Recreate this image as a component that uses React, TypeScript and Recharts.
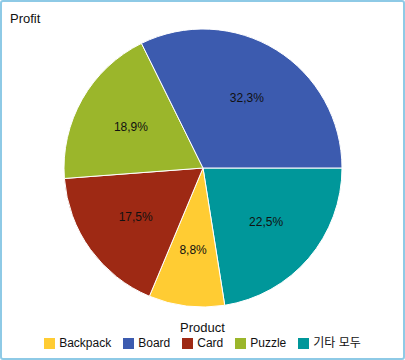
import React from 'react';
import { PieChart, Pie, Cell, Legend } from 'recharts';

const categories = ['기타 모두', 'Backpack', 'Card', 'Puzzle', 'Board'];
const profitShare = [22.5, 8.8, 17.5, 18.9, 32.3];
const legendOrder = ['Backpack', 'Board', 'Card', 'Puzzle', '기타 모두'];

const COLORS: Record<string, string> = {
  Backpack: '#FFCC33',
  Board: '#3C5BAF',
  Card: '#9E2914',
  Puzzle: '#9BB62B',
  '기타 모두': '#00979A',
};

const data = categories.map((name, i) => ({ name, value: profitShare[i] }));

const FONT = '"Liberation Sans", Arial, "Noto Sans CJK KR", sans-serif';
const RADIAN = Math.PI / 180;

const renderLabel = (props: any) => {
  const { cx, cy, midAngle, percent } = props;
  const r = 83;
  const x = cx + r * Math.cos(-midAngle * RADIAN);
  const y = cy + r * Math.sin(-midAngle * RADIAN);
  return (
    <text
      x={x}
      y={y}
      fill="#111"
      fontSize={12}
      fontFamily={FONT}
      textAnchor="middle"
      dominantBaseline="central"
    >
      {(percent * 100).toFixed(1).replace('.', ',')}%
    </text>
  );
};

const renderLegend = () => (
  <div style={{ fontFamily: FONT, color: '#111', textAlign: 'center' }}>
    <div style={{ fontSize: 13, lineHeight: '14px' }}>Product</div>
    <div style={{ display: 'flex', justifyContent: 'center', gap: 12, fontSize: 12, lineHeight: '16px' }}>
      {legendOrder.map((name) => (
        <span key={name} style={{ display: 'inline-flex', alignItems: 'center' }}>
          <span
            style={{
              display: 'inline-block',
              width: 11,
              height: 11,
              background: COLORS[name],
              marginRight: 4,
            }}
          />
          {name}
        </span>
      ))}
    </div>
  </div>
);

export default function App() {
  return (
    <div
      style={{
        position: 'fixed',
        left: 0,
        top: 0,
        width: 405,
        height: 360,
        boxSizing: 'border-box',
        border: '2px solid #8ECAE6',
        borderRadius: 3,
        background: '#fff',
      }}
    >
      <div
        style={{
          position: 'absolute',
          left: 8,
          top: 9,
          fontFamily: FONT,
          fontSize: 13,
          color: '#111',
        }}
      >
        Profit
      </div>
      <PieChart width={401} height={356} margin={{ top: 0, right: 0, bottom: 0, left: 0 }}>
        <Pie
          data={data}
          dataKey="value"
          nameKey="name"
          cx={201}
          cy={166}
          outerRadius={139}
          startAngle={0}
          endAngle={-360}
          stroke="#fff"
          strokeWidth={1}
          label={renderLabel}
          labelLine={false}
          isAnimationActive={false}
        >
          {data.map((d) => (
            <Cell key={d.name} fill={COLORS[d.name]} />
          ))}
        </Pie>
        <Legend
          content={renderLegend}
          wrapperStyle={{ position: 'absolute', left: 0, top: 319, width: 401 }}
        />
      </PieChart>
    </div>
  );
}
